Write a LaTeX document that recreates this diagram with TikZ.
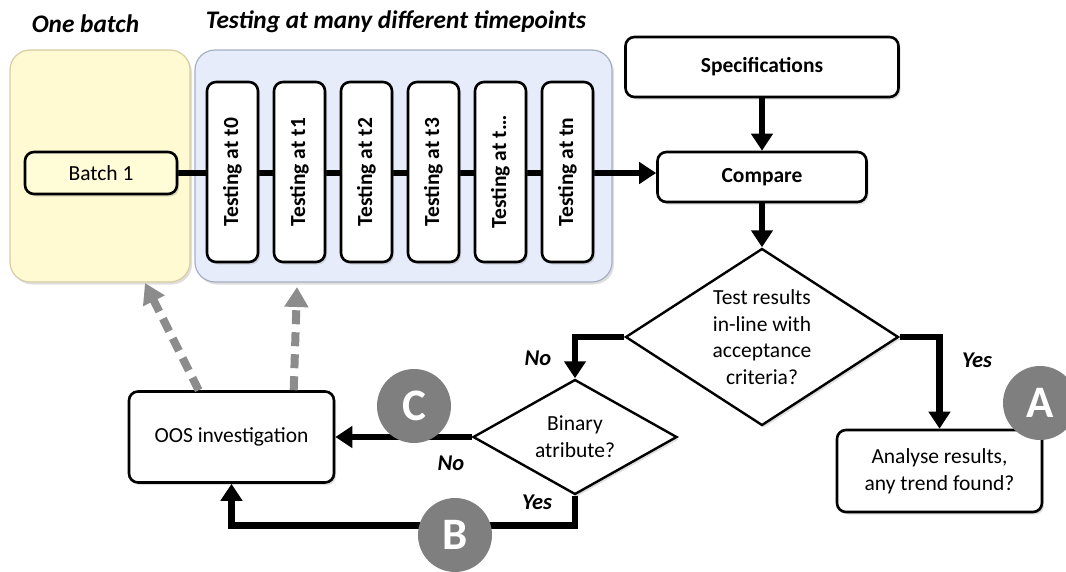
\documentclass[tikz,border=0pt]{standalone}
\usepackage{fontspec}
\setmainfont{Carlito}
\usepackage{graphicx}
\usetikzlibrary{arrows.meta,shapes.geometric,shadows,calc}
\definecolor{ypanel}{RGB}{255,250,210}
\definecolor{ypanelb}{RGB}{215,205,160}
\definecolor{bpanel}{RGB}{230,236,250}
\definecolor{bpanelb}{RGB}{165,175,195}
\definecolor{batchfill}{RGB}{255,252,216}
\definecolor{circgray}{RGB}{127,127,127}
\definecolor{dashgray}{RGB}{140,140,140}
\pgfdeclarelayer{bg}
\pgfdeclarelayer{lines}
\pgfsetlayers{bg,lines,main}
\begin{document}
\begin{tikzpicture}[x=1pt,y=-1pt,
  txt/.style={font=\fontsize{21.5}{26.7}\selectfont},
  shad/.style={drop shadow={shadow xshift=2pt,shadow yshift=-2.5pt,opacity=0.25}},
  box/.style={draw,line width=2.6pt,rounded corners=9pt,fill=white,inner sep=0pt,txt,align=center,shad},
  panel/.style={draw,line width=1.2pt,rounded corners=20pt,inner sep=0pt,shad},
  dia/.style={draw,diamond,line width=2.4pt,fill=white,inner sep=0pt,txt,align=center,shad},
  conn/.style={line width=6.5pt,-{Triangle[width=21pt,length=17pt]}},
  garrow/.style={line width=8pt,draw=dashgray,dash pattern=on 14pt off 8pt,-{Triangle[width=23pt,length=20pt]}},
  lbl/.style={font=\fontsize{22.5}{26}\selectfont\bfseries\itshape},
  ttl/.style={font=\fontsize{25.3}{28}\selectfont\bfseries\itshape},
  badge/.style={circle,fill=circgray,minimum size=74pt,inner sep=0pt,text=white,font=\fontsize{45}{45}\selectfont\bfseries}
]
\useasboundingbox (0,0) rectangle (1066,571);
\clip (0,0) rectangle (1066,571);

% titles
\node[ttl] (ttl1) at (85.5,24) {One batch};
\node[ttl] (ttl2) at (396,22) {Testing at many different timepoints};

% panels
\begin{pgfonlayer}{bg}
\node[panel,draw=ypanelb,fill=ypanel,minimum width=180pt,minimum height=232pt] (ypan) at (100,166) {};
\node[panel,draw=bpanelb,fill=bpanel,minimum width=417pt,minimum height=232pt] (bpan) at (403.5,166) {};
\end{pgfonlayer}

% nodes
\node[box,fill=batchfill,minimum width=152pt,minimum height=42pt] (batch) at (101,173) {Batch 1};
\foreach \i/\t [count=\k from 0] in {t0/t0,t1/t1,t2/t2,t3/t3,tx/t\dots,tn/tn}{
  \node[box,minimum width=51pt,minimum height=180pt] (\i) at (232.5+67*\k,172) {\rotatebox{90}{\bfseries Testing at \t}};
}
\node[box,minimum width=273pt,minimum height=60pt,font=\fontsize{21.5}{26.7}\selectfont\bfseries] (spec) at (762,67) {Specifications};
\node[box,minimum width=209pt,minimum height=50pt,font=\fontsize{21.5}{26.7}\selectfont\bfseries] (compare) at (762,177) {Compare};
\node[dia,minimum width=273pt,minimum height=177pt,aspect=1.54] (main) at (762,337) {Test results\\in-line with\\acceptance\\criteria?};
\node[dia,minimum width=204pt,minimum height=115pt,aspect=1.77] (bin) at (575,437) {Binary\\atribute?};
\node[box,minimum width=205pt,minimum height=91pt] (oos) at (231.5,437) {OOS investigation};
\node[box,minimum width=205pt,minimum height=82pt] (analyse) at (939.5,471) {Analyse results,\\any trend found?};

% connectors
\begin{pgfonlayer}{lines}
\draw[conn] (batch.east) -- (batch.east -| compare.west);
\end{pgfonlayer}
\draw[conn] (spec.south) -- (compare.north);
\draw[conn] (compare.south) -- (main.north);
\draw[conn] (main.west) -| (bin.north);
\draw[conn] (main.east) -| (analyse.north);
\draw[conn] (bin.west) -- (oos.east);
\draw[conn] (bin.south) -- ++(0,30) -| (oos.south);

\coordinate (g1) at (145,283);
\coordinate (g2) at (297,287);
\draw[garrow] ([xshift=71pt]oos.north west) -- (g1);
\draw[garrow] ([xshift=166pt]oos.north west) -- (g2);

% labels
\node[lbl] (l1) at (538,358) {No};
\node[lbl] (l2) at (451,463) {No};
\node[lbl] (l3) at (537,502) {Yes};
\node[lbl] (l4) at (977,360) {Yes};

% badges
\node[badge] (A) at (1040,403) {A};
\node[badge] (B) at (455,535) {B};
\node[badge] (C) at (414,406) {C};
\end{tikzpicture}
\end{document}
